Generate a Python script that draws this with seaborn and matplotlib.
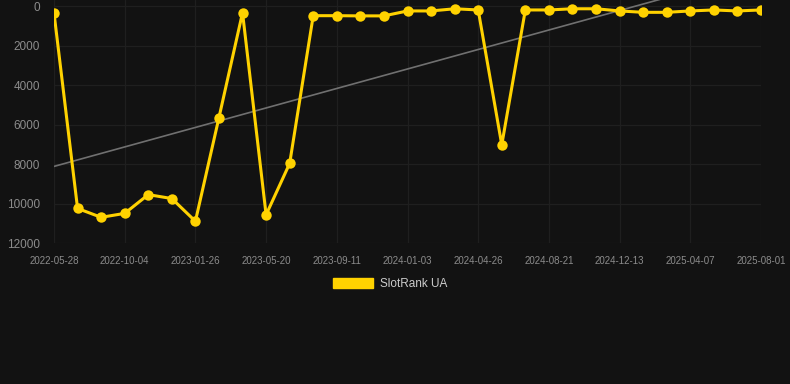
import numpy as np
import pandas as pd
import matplotlib
matplotlib.use("Agg")
import matplotlib.pyplot as plt
import seaborn as sns
from matplotlib.patches import Patch

# one point per snapshot, tick label shown on every third
dates = ["2022-05-28", "2022-07-10", "2022-08-22", "2022-10-04", "2022-11-11",
         "2022-12-19", "2023-01-26", "2023-03-05", "2023-04-12", "2023-05-20",
         "2023-06-27", "2023-08-04", "2023-09-11", "2023-10-19", "2023-11-26",
         "2024-01-03", "2024-02-10", "2024-03-19", "2024-04-26", "2024-06-03",
         "2024-07-12", "2024-08-21", "2024-09-28", "2024-11-05", "2024-12-13",
         "2025-01-20", "2025-02-27", "2025-04-07", "2025-05-15", "2025-06-22",
         "2025-08-01"]
rank = [350, 10250, 10700, 10500, 9550, 9750, 10900, 5650, 340, 10570,
        7970, 490, 490, 500, 500, 250, 250, 140, 200, 7030,
        200, 200, 140, 140, 250, 320, 320, 250, 200, 250, 200]
y_ticks = [0, 2000, 4000, 6000, 8000, 10000, 12000]
series_name = "SlotRank UA"

BG = "#121212"
GRID = "#1f1f1f"
YELLOW = "#FFD200"
TEXT = "#8c8c8c"

df = pd.DataFrame({"date": dates, "rank": rank})
df["idx"] = np.arange(len(df))

sns.set_theme(style="dark")
plt.rcParams["font.family"] = ["Liberation Sans", "DejaVu Sans"]

fig = plt.figure(figsize=(7.9, 3.84), dpi=100, facecolor=BG)
ax = fig.add_axes([54 / 790, 1 - 243 / 384, 707 / 790, 243 / 384])
ax.set_facecolor(BG)

# linear trend over the whole series
sns.regplot(data=df, x="idx", y="rank", scatter=False, ci=None, ax=ax,
            line_kws={"color": "#707070", "lw": 1.2, "zorder": 2})
sns.lineplot(data=df, x="idx", y="rank", ax=ax, color=YELLOW, lw=2.2,
             marker="o", markersize=7.5, markeredgewidth=0, zorder=3)

ax.set_xlim(0, len(df) - 1)
ax.set_ylim(12000, -304)
ax.set_yticks(y_ticks)
ax.set_yticklabels([str(v) for v in y_ticks])
tick_idx = df["idx"][::3]
ax.set_xticks(tick_idx)
ax.set_xticklabels(df["date"][::3])

ax.grid(True, color=GRID, lw=0.9)
ax.tick_params(axis="x", colors=TEXT, labelsize=7, length=7, color=GRID, pad=2)
ax.tick_params(axis="y", colors=TEXT, labelsize=8.5, length=6, color=GRID, pad=4)
for s in ax.spines.values():
    s.set_visible(False)
ax.set_xlabel("")
ax.set_ylabel("")

handle = Patch(facecolor=YELLOW, edgecolor=YELLOW)
leg = fig.legend([handle], [series_name], loc="center",
                 bbox_to_anchor=(390 / 790, 1 - 284 / 384), frameon=False,
                 fontsize=8.5, handlelength=3.4, handleheight=0.95,
                 handletextpad=0.6)
for t in leg.get_texts():
    t.set_color("#cccccc")

fig.savefig("out.png", dpi=100, facecolor=BG)
